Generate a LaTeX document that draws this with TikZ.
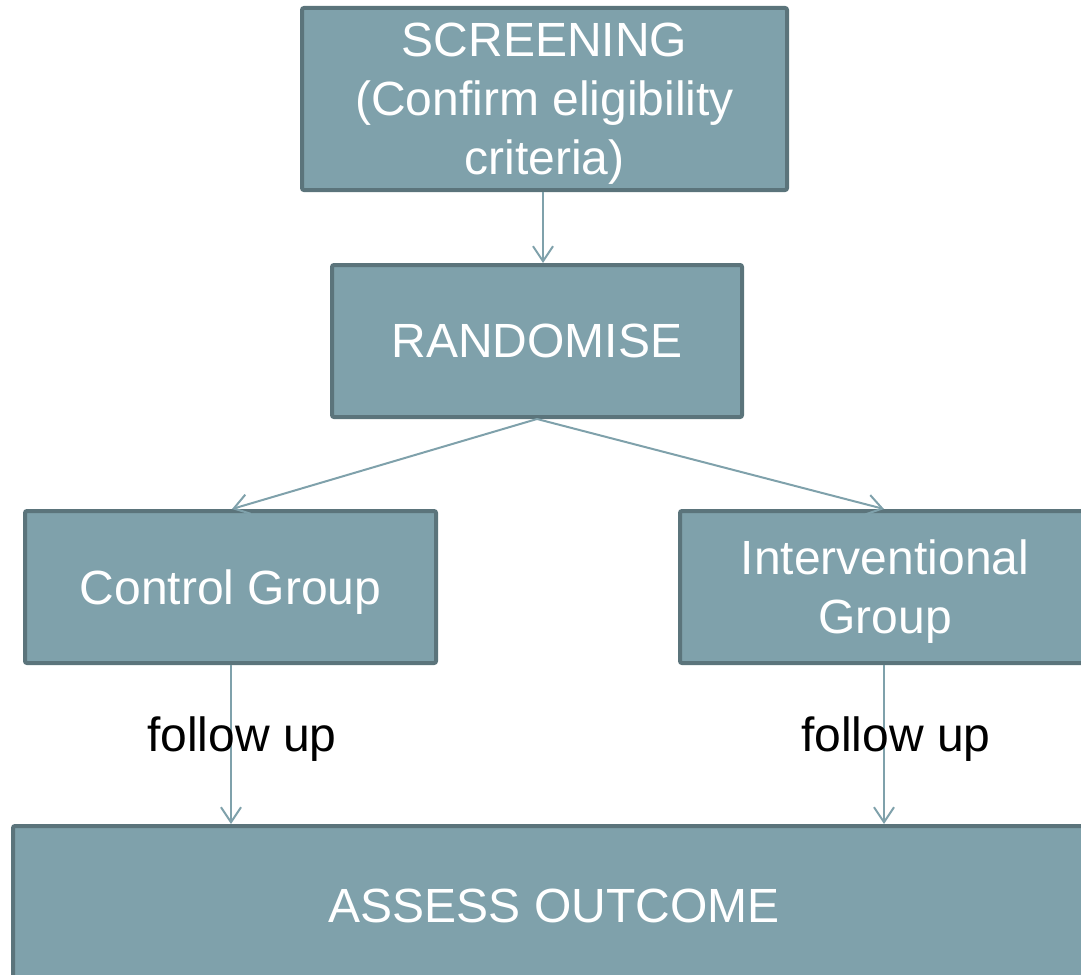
\documentclass[tikz,border=0pt]{standalone}
\usepackage{fontspec}
\setmainfont{Liberation Sans}
\usetikzlibrary{arrows.meta}
\definecolor{boxfill}{HTML}{7FA1AB}
\definecolor{boxedge}{HTML}{5B747B}
\definecolor{linkcol}{HTML}{7FA1AB}
\begin{document}
\begin{tikzpicture}[x=1pt,y=-1pt,
  box/.style={draw=boxedge, line width=4pt, fill=boxfill, rounded corners=2pt,
    text=white, align=center, inner sep=0pt, text depth=0pt,
    font=\fontsize{48}{59}\selectfont},
  link/.style={draw=linkcol, line width=2pt,
    -{Straight Barb[length=15pt,width=20pt,line width=2pt]}},
  note/.style={text=black, font=\fontsize{48}{59}\selectfont, inner sep=0pt}]
\useasboundingbox (0,0) rectangle (1081,974);
\clip (0,0) rectangle (1081,974);
% process boxes
\node[box, minimum width=485pt, minimum height=182pt] (screen) at (544.5,99)
  {SCREENING\\(Confirm eligibility\\criteria)};
\node[box, minimum width=410pt, minimum height=152pt] (rand) at (537,341)
  {RANDOMISE};
\node[box, minimum width=411pt, minimum height=152pt] (ctrl) at (230.5,587)
  {Control Group};
\node[box, minimum width=410pt, minimum height=152pt] (intv) at (885,587)
  {Interventional\\Group};
\node[box, minimum width=1082pt, minimum height=160pt] (assess) at (554,906)
  {ASSESS OUTCOME};
% connectors
\draw[link] (screen.south -| 543,0) -- (rand.north -| 543,0);
\draw[link] (rand.south) -- (ctrl.north -| 232,0);
\draw[link] (rand.south) -- (intv.north -| 884,0);
\draw[link] (ctrl.south -| 231,0) -- (assess.north -| 231,0);
\draw[link] (intv.south -| 884,0) -- (assess.north -| 884,0);
% labels along the follow-up links
\node[note] (fu1) at (242,739) {follow up};
\node[note] (fu2) at (896,739) {follow up};
\end{tikzpicture}
\end{document}
